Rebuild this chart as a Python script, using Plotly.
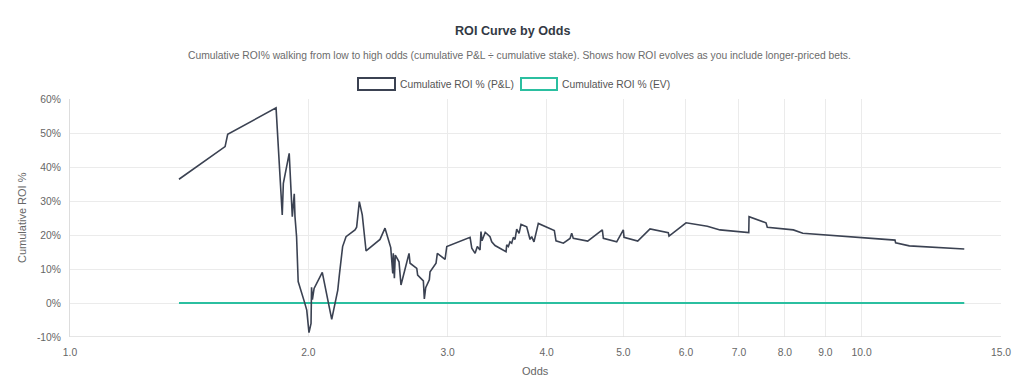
import plotly.graph_objects as go
import math

# ---- data ----
pnl_odds = [1.373, 1.570, 1.582, 1.821, 1.854, 1.860, 1.892, 1.909, 1.920, 1.924,
            1.933, 1.942, 1.977, 1.991, 2.004, 2.016, 2.019, 2.024, 2.034, 2.083,
            2.141, 2.179, 2.189, 2.199, 2.210, 2.232, 2.291, 2.302, 2.320, 2.340,
            2.366, 2.464, 2.500, 2.542, 2.557, 2.561, 2.569, 2.576, 2.604, 2.619,
            2.681, 2.689, 2.742, 2.749, 2.795, 2.803, 2.814, 2.844, 2.850, 2.900,
            2.911, 2.977, 2.992, 3.202, 3.218, 3.249, 3.270, 3.296, 3.305, 3.315,
            3.346, 3.393, 3.410, 3.443, 3.555, 3.562, 3.579, 3.596, 3.614, 3.631,
            3.649, 3.667, 3.692, 3.713, 3.775, 3.812, 3.830, 3.856, 3.905, 4.091,
            4.111, 4.200, 4.282, 4.303, 4.323, 4.508, 4.704, 4.718, 4.905, 5.000,
            5.010, 5.214, 5.404, 5.699, 5.711, 6.001, 6.384, 6.624, 7.202, 7.208,
            7.572, 7.601, 8.199, 8.427, 11.02, 11.04, 11.49, 13.48]
pnl_roi = [36.4, 46.0, 49.6, 57.4, 25.9, 35.2, 44.0, 25.4, 32.1, 25.4,
           19.5, 6.3, 0.4, -2.1, -8.7, -6.0, 4.6, 1.0, 4.3, 9.0,
           -4.8, 3.8, 8.2, 11.7, 16.6, 19.5, 21.5, 22.3, 29.8, 25.9,
           15.3, 18.7, 22.0, 16.3, 8.7, 14.6, 7.3, 14.1, 12.1, 5.3,
           14.6, 11.7, 10.2, 8.2, 6.5, 1.2, 4.5, 6.8, 9.2, 11.7,
           14.6, 12.8, 16.6, 19.3, 16.1, 14.6, 16.6, 15.6, 21.0, 18.3,
           20.8, 19.5, 18.0, 16.9, 15.1, 17.1, 16.6, 18.0, 17.6, 19.3,
           18.7, 21.7, 20.5, 23.1, 22.4, 18.7, 19.5, 18.0, 23.4, 21.3,
           18.3, 17.6, 19.0, 20.5, 19.0, 18.2, 21.5, 19.0, 18.0, 21.5,
           19.3, 18.2, 21.8, 20.7, 19.7, 23.6, 22.6, 21.5, 20.7, 25.4,
           23.6, 22.3, 21.5, 20.5, 18.5, 17.7, 16.8, 15.9]
ev_odds = [1.373, 13.48]
ev_roi = [0.0, 0.0]

x_tick_vals = [1, 2, 3, 4, 5, 6, 7, 8, 9, 10, 15]
x_tick_text = ["1.0", "2.0", "3.0", "4.0", "5.0", "6.0", "7.0", "8.0", "9.0", "10.0", "15.0"]
y_tick_vals = [-10, 0, 10, 20, 30, 40, 50, 60]
y_tick_text = ["-10%", "0%", "10%", "20%", "30%", "40%", "50%", "60%"]

series_names = ["Cumulative ROI % (P&L)", "Cumulative ROI % (EV)"]
PNL_COLOR = "#3b4252"
EV_COLOR = "#2bbfa0"
FONT = "Liberation Sans, Arial, sans-serif"
TXT = 10.3

fig = go.Figure()
fig.add_trace(go.Scatter(x=ev_odds, y=ev_roi, mode="lines", name=series_names[1],
                         line=dict(color=EV_COLOR, width=2), showlegend=False))
fig.add_trace(go.Scatter(x=pnl_odds, y=pnl_roi, mode="lines", name=series_names[0],
                         line=dict(color=PNL_COLOR, width=1.6), showlegend=False))

OFF = 8  # page body margin
W, H = 1008, 372
L, R, T, B = 62, 15, 91, 43
pw, ph = W - L - R, H - T - B

def px(x):
    return (x - OFF - L) / pw

def py(y):
    return (H - B - (y - OFF)) / ph

shapes = [
    dict(type="rect", xref="paper", yref="paper", x0=px(358), x1=px(395), y0=py(90), y1=py(78),
         line=dict(color=PNL_COLOR, width=2), fillcolor="rgba(255,255,255,0)"),
    dict(type="rect", xref="paper", yref="paper", x0=px(521), x1=px(557), y0=py(90), y1=py(78),
         line=dict(color=EV_COLOR, width=2), fillcolor="rgba(255,255,255,0)"),
]

annotations = [
    dict(text="<b>ROI Curve by Odds</b>", xref="paper", yref="paper", x=px(512), y=py(31),
         showarrow=False, xanchor="center", yanchor="middle",
         font=dict(size=12.6, color="#333a44", family=FONT)),
    dict(text="Cumulative ROI% walking from low to high odds (cumulative P&L ÷ cumulative stake). "
              "Shows how ROI evolves as you include longer-priced bets.",
         xref="paper", yref="paper", x=px(519), y=py(55), showarrow=False,
         xanchor="center", yanchor="middle", font=dict(size=TXT, color="#6b6b6b", family=FONT)),
    dict(text=series_names[0], xref="paper", yref="paper", x=px(398), y=py(84), showarrow=False,
         xanchor="left", yanchor="middle", font=dict(size=TXT, color="#555555", family=FONT)),
    dict(text=series_names[1], xref="paper", yref="paper", x=px(560), y=py(84), showarrow=False,
         xanchor="left", yanchor="middle", font=dict(size=TXT, color="#555555", family=FONT)),
    dict(text="Cumulative ROI %", xref="paper", yref="paper", x=px(22), y=py(218), showarrow=False,
         textangle=-90, xanchor="center", yanchor="middle",
         font=dict(size=11, color="#666666", family=FONT)),
    dict(text="Odds", xref="paper", yref="paper", x=px(535), y=py(371), showarrow=False,
         xanchor="center", yanchor="middle", font=dict(size=11, color="#666666", family=FONT)),
]

fig.update_layout(
    width=W, height=H,
    margin=dict(l=L, r=R, t=T, b=B),
    paper_bgcolor="white", plot_bgcolor="white",
    font=dict(family=FONT, size=TXT, color="#666666"),
    shapes=shapes, annotations=annotations,
    showlegend=False,
)
fig.update_xaxes(type="log", range=[0, math.log10(15)], tickvals=x_tick_vals, ticktext=x_tick_text,
                 showgrid=True, gridcolor="#ebebeb", gridwidth=1, zeroline=False, automargin=False,
                 showline=False, ticks="", ticklabelstandoff=8,
                 tickfont=dict(size=TXT, color="#666666"))
fig.update_yaxes(range=[-10, 60], tickvals=y_tick_vals, ticktext=y_tick_text,
                 showgrid=True, gridcolor="#ebebeb", gridwidth=1, zeroline=False, automargin=False,
                 showline=True, linecolor="#dddddd", mirror=False, ticks="", ticklabelstandoff=6,
                 tickfont=dict(size=TXT, color="#666666"))
fig.add_hline(y=-10, line=dict(color="#dcdcdc", width=1.5))

fig.write_html("out.html")
